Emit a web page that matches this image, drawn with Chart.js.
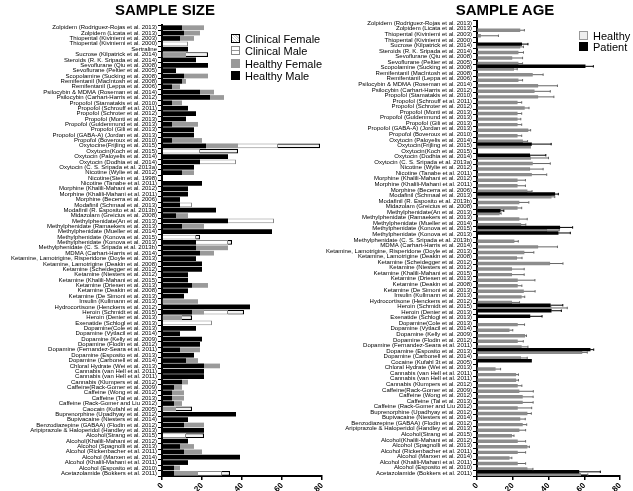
<!DOCTYPE html>
<html><head><meta charset="utf-8">
<script src="https://cdn.jsdelivr.net/npm/chart.js@4.4.0/dist/chart.umd.min.js"></script>
<style>
html,body{margin:0;padding:0;background:#fff;width:633px;height:491px;overflow:hidden;font-family:"Liberation Sans",Arial,sans-serif;}
.wrap{position:absolute;top:0;height:491px;}
#wrapL{left:0;width:330px;}
#wrapR{left:310px;width:323px;}
.title{position:absolute;top:2px;font-weight:bold;font-size:15px;line-height:16px;transform:translateX(-50%);white-space:nowrap;}
.leg{position:absolute;font-size:11px;line-height:12px;white-space:nowrap;}
.sw{position:absolute;left:0;top:1px;width:9px;height:9px;box-sizing:border-box;}
.leg span.t{position:absolute;left:14px;top:0;}
</style></head>
<body>
<div class="wrap" id="wrapL"><canvas id="cL" width="330" height="491"></canvas></div>
<div class="wrap" id="wrapR"><canvas id="cR" width="323" height="491"></canvas></div>
<div class="title" style="left:165px;">SAMPLE SIZE</div>
<div class="title" style="left:505px;">SAMPLE AGE</div>

<div class="leg" style="left:231px;top:33px;"><div class="sw" style="border:1.5px solid #000;background:repeating-linear-gradient(45deg,#fff 0 1px,#ccc 1px 2px);"></div><span class="t">Clinical Female</span></div>
<div class="leg" style="left:231px;top:45px;"><div class="sw" style="border:1.5px solid #888;background:linear-gradient(#fff 0 3px,#999 3px 4.5px,#fff 4.5px);"></div><span class="t">Clinical Male</span></div>
<div class="leg" style="left:231px;top:57.5px;"><div class="sw" style="background:#999;"></div><span class="t">Healthy Female</span></div>
<div class="leg" style="left:231px;top:70px;"><div class="sw" style="background:#000;"></div><span class="t">Healthy Male</span></div>

<div class="leg" style="left:579px;top:30px;"><div class="sw" style="border:1px solid #999;background:#eee;"></div><span class="t">Healthy</span></div>
<div class="leg" style="left:579px;top:41px;"><div class="sw" style="background:#000;"></div><span class="t">Patient</span></div>

<script>
const sizeLabels = [
"Zolpidem (Rodriguez-Rojas et al. 2013)","Zolpidem (Licata et al. 2013)","Thiopental (Kiviniemi et al. 2003)","Thiopental (Kiviniemi et al. 2000)","Sertraline",
"Sucrose (Kilpatrick et al. 2014)","Steroids (R. K. Sripada et al. 2014)","Sevoflurane (Qiu et al. 2008)","Sevoflurane (Peltier et al. 2005)","Scopolamine (Sucking et al. 2008)",
"Remifentanil (MacIntosh et al. 2008)","Remifentanil (Leppa et al. 2006)","Psilocybin & MDMA (Roseman et al. 2014)","Psilocybin (Carhart-Harris et al. 2012)","Propofol (Stamatakis et al. 2010)",
"Propofol (Schrouff et al. 2011)","Propofol (Schroter et al. 2012)","Propofol (Monti et al. 2013)","Propofol (Guldenmund et al. 2013)","Propofol (Gili et al. 2013)",
"Propofol (GABA-A) (Jordan et al. 2013)","Propofol (Boveroux et al. 2010)","Oxytocine(Frijling et al. 2015)","Oxytocin(Koch et al. 2015)","Oxytocin (Paloyelis et al. 2014)",
"Oxytocin (Dodhia et al. 2014)","Oxytocin (C. S. Sripada et al. 2013a)","Nicotine (Wylie et al. 2012)","Nicotine(Stein et al. 1998)","Nicotine (Tanabe et al. 2011)",
"Morphine (Khalili-Mahani et al. 2012)","Morphine (Khalili-Mahani et al. 2011)","Morphine (Becerra et al. 2006)","Modafinil (Schmaal et al. 2013)","Modafinil (R. Esposito et al. 2013b)",
"Midazolam (Greicius et al. 2008)","Methylphenidate(An et al. 2013)","Methylphenidate (Ramaekers et al. 2013)","Methylphenidate (Mueller et al. 2014)","Methylphenidate (Konova et al. 2015)",
"Methylphenidate (Konova et al. 2013)","Methylphenidate (C. S. Sripada et al. 2013b)","MDMA (Carhart-Harris et al. 2014)","Ketamine, Lamotrigine, Risperidone (Doyle et al. 2013)","Ketamine, Lamotrigine (Deakin et al. 2008)",
"Ketamine (Scheidegger et al. 2012)","Ketamine (Niesters et al. 2012)","Ketamine (Khalili-Mahani et al. 2015)","Ketamine (Driesen et al. 2013)","Ketamine (Deakin et al. 2008)",
"Ketamine (De Simoni et al. 2013)","Insulin (Kullmann et al. 2013)","Hydrocortisone (Henckens et al. 2012)","Heroin (Schmidt et al. 2015)","Heroin (Denier et al. 2013)",
"Exenatide (Schlogl et al. 2013)","Dopamine(Cole et al. 2013)","Dopamine (Vytlacil et al. 2014)","Dopamine (Kelly et al. 2009)","Dopamine (Flodin et al. 2012)",
"Dopamine (Fernandez-Seara et al. 2011)","Dopamine (Esposito et al. 2013)","Dopamine (Carbonell et al. 2014)","Chloral Hydrate (Wei et al. 2013)","Cannabis (van Hell et al. 2011)",
"Cannabis (van Hell et al. 2011)","Cannabis (Klumpers et al. 2012)","Caffeine(Rack-Gomer et al. 2009)","Caffeine (Wong et al. 2012)","Caffeine (Tal et al. 2013)",
"Caffeine (Rack-Gomer and Liu 2012)","Caocain (Kufahl et al. 2005)","Buprenorphine (Upadhyay et al. 2012)","Bupivacaine (Niesters et al. 2014)","Benzodiazepine (GABAA) (Flodin et al. 2012)",
"Aripiprazole & Haloperidol (Handley et al. 2013)","Alcohol(Strang et al. 2015)","Alcohol(Khalili-Mahani et al. 2012)","Alcohol (Spagnolli et al. 2013)","Alcohol (Rickenbacher et al. 2011)",
"Alcohol (Marxen et al. 2014)","Alcohol (Khalili-Mahani et al. 2011)","Alcohol (Esposito et al. 2010)","Acetazolamide (Bokkers et al. 2011)"
];
const healthyMale = [10,11,9,0,13, 0,17,23,7,11, 10,5,19,24,5, 13,17,12,5,16, 16,5,22,0,33, 19,16,10,0,20, 13,13,9,9,27, 7,33,10,55,0, 17,17,19,17,20, 20,13,13,15,13, 11,0,44,15,0, 0,17,9,20,19, 9,16,12,21,21, 21,10,6,5,5, 6,0,37,13,11, 21,0,13,9,11, 39,13,6,6];
const healthyFemale = [11,8,7,0,0, 12,0,0,0,12, 2,4,7,7,5, 0,0,0,13,0, 0,15,16,0,0, 0,0,6,0,0, 0,0,0,0,0, 6,0,11,0,0, 0,16,7,0,0, 0,0,0,8,0, 0,18,0,6,10, 0,0,0,0,0, 10,0,6,8,0, 0,3,4,6,6, 4,7,0,0,10, 0,0,0,7,9, 0,0,3,12];
const clinicalMale = [0,0,0,13,0, 0,0,0,0,0, 0,0,0,0,0, 0,0,0,0,0, 0,0,20,19,0, 18,0,0,0,0, 0,0,0,6,0, 0,23,0,0,17, 16,0,0,0,0, 0,0,0,0,0, 0,0,0,12,0, 25,0,0,0,0, 0,0,0,0,0, 0,0,0,0,0, 0,0,0,0,0, 0,12,0,0,0, 0,0,0,12];
const clinicalFemale = [0,0,0,0,0, 11,0,0,0,0, 0,0,0,0,0, 0,0,0,0,0, 0,0,21,19,0, 0,0,0,0,0, 0,0,0,0,0, 0,0,0,0,2, 2,0,0,0,0, 0,0,0,0,0, 0,0,0,8,5, 0,0,0,0,0, 0,0,0,0,0, 0,0,0,0,0, 0,8,0,0,0, 0,9,0,0,0, 0,0,0,4];

const ageLabels = [
"Zolpidem (Rodriguez-Rojas et al. 2013)","Zolpidem (Licata et al. 2013)","Thiopental (Kiviniemi et al. 2003)","Thiopental (Kiviniemi et al. 2000)","Sucrose (Kilpatrick et al. 2014)",
"Steroids (R. K. Sripada et al. 2014)","Sevoflurane (Qiu et al. 2008)","Sevoflurane (Peltier et al. 2005)","Scopolamine (Sucking et al. 2008)","Remifentanil (MacIntosh et al. 2008)",
"Remifentanil (Leppa et al. 2006)","Psilocybin & MDMA (Roseman et al. 2014)","Psilocybin (Carhart-Harris et al. 2012)","Propofol (Stamatakis et al. 2010)","Propofol (Schrouff et al. 2011)",
"Propofol (Schroter et al. 2012)","Propofol (Monti et al. 2013)","Propofol (Guldenmund et al. 2013)","Propofol (Gili et al. 2013)","Propofol (GABA-A) (Jordan et al. 2013)",
"Propofol (Boveroux et al. 2010)","Oxytocin (Paloyelis et al. 2014)","Oxytocin(Frijling et al. 2015)","Oxytocin(Koch et al. 2015)","Oxytocin (Dodhia et al. 2014)",
"Oxytocin (C. S. Sripada et al. 2013a)","Nicotine (Wylie et al. 2012)","Nicotine (Tanabe et al. 2011)","Morphine (Khalili-Mahani et al. 2012)","Morphine (Khalili-Mahani et al. 2011)",
"Morphine (Becerra et al. 2006)","Modafinil (Schmaal et al. 2013)","Modafinil (R. Esposito et al. 2013b)","Midazolam (Greicius et al. 2008)","Methylphenidate(An et al. 2013)",
"Methylphenidate (Ramaekers et al. 2013)","Methylphenidate (Mueller et al. 2014)","Methylphenidate (Konova et al. 2015)","Methylphenidate (Konova et al. 2013)","Methylphenidate (C. S. Sripada et al. 2013b)",
"MDMA (Carhart-Harris et al. 2014)","Ketamine, Lamotrigine, Risperidone (Doyle et al. 2013)","Ketamine, Lamotrigine (Deakin et al. 2008)","Ketamine (Scheidegger et al. 2012)","Ketamine (Niesters et al. 2012)",
"Ketamine (Khalili-Mahani et al. 2015)","Ketamine (Driesen et al. 2013)","Ketamine (Deakin et al. 2008)","Ketamine (De Simoni et al. 2013)","Insulin (Kullmann et al. 2013)",
"Hydrocortisone (Henckens et al. 2012)","Heroin (Schmidt et al. 2015)","Heroin (Denier et al. 2013)","Exenatide (Schlogl et al. 2013)","Dopamine(Cole et al. 2013)",
"Dopamine (Vytlacil et al. 2014)","Dopamine (Kelly et al. 2009)","Dopamine (Flodin et al. 2012)","Dopamine (Fernandez-Seara et al. 2011)","Dopamine (Esposito et al. 2013)",
"Dopamine (Carbonell et al. 2014)","Cocaine (Kufahl 3t et al. 2005)","Chloral Hydrate (Wei et al. 2013)","Cannabis (van Hell et al. 2011)","Cannabis (van Hell et al. 2011)",
"Cannabis (Klumpers et al. 2012)","Caffeine(Rack-Gomer et al. 2009)","Caffeine (Wong et al. 2012)","Caffeine (Tal et al. 2013)","Caffeine (Rack-Gomer and Liu 2012)",
"Buprenorphine (Upadhyay et al. 2012)","Bupivacaine (Niesters et al. 2014)","Benzodiazepine (GABAA) (Flodin et al. 2012)","Aripiprazole & Haloperidol (Handley et al. 2013)","Alcohol(Strang et al. 2015)",
"Alcohol(Khalili-Mahani et al. 2012)","Alcohol (Spagnolli et al. 2013)","Alcohol (Rickenbacher et al. 2011)","Alcohol (Marxen et al. 2014)","Alcohol (Khalili-Mahani et al. 2011)",
"Alcohol (Esposito et al. 2010)","Acetazolamide (Bokkers et al. 2011)"
];
const healthyAge = [null,24,2,null,24, 23,19.5,23,20.5,31, 23,34,32,34,22.5, 26.5,22.5,22.5,22.5,28.5, 22.5,25.5,30,null,30, 31,29.5,30.5,22.5,22.5, 28,41.5,23.5,22.5,12.5, 23.5,24.5,39,null,20.7, 34,26.3,22.2,40.7,19.4, 19.4,22.6,22.6,26,24.8, 19.4,41.5,null,null,22.6, 18,26.7,22.6,24.8,58.7, 24.4,null,10.2,21.7,21.7, 22.6,23.5,25.4,25.4,22.6, 28,24,25.4,23.5,19.4, 22.6,28,22.6,18,22.6, 28,58];
const healthyAgeErr = [0,2.5,10,0,2, 3,6,2.5,2,6, 2.5,11,9,9,2.5, 2.6,2.5,2,2.5,1.5, 2.5,2.8,0,0,10, 10,7.5,8.5,4.6,4.6, 2.8,2,5.5,2.5,1, 4.6,2.8,7,0,2.4, 11,5.5,3,7.4,7, 7,9.8,2.5,6.5,1.9, 4.4,9,0,0,4, 2,1,3.3,3.7,3, 3.7,0,3,1.5,1.5, 2.5,8,6,6,8, 2.4,3,2.4,3.7,1.3, 4.6,1.3,4.6,1.5,4.6, 3.3,4];
const patientAge = [null,null,null,null,25, null,null,null,60.5,null, null,null,null,null,null, null,null,null,null,null, null,null,30.5,null,29.5, null,null,null,null,null, null,43.5,null,null,13, null,null,46.3,45.4,null, null,null,null,null,null, null,null,null,null,null, null,41,41.5,29.6,null, null,null,null,null,63.3, null,30.5,null,null,null, null,null,null,null,null, null,null,null,null,null, null,null,null,null,null, null,57];
const patientAgeErr = [0,0,0,0,3.5, 0,0,0,4.6,0, 0,0,0,0,0, 0,0,0,0,0, 0,0,11,0,9, 0,0,0,0,0, 0,2,0,0,2, 0,0,7.2,6.8,0, 0,0,0,0,0, 0,0,0,0,0, 0,7,5.7,6.8,0, 0,0,0,0,2, 0,0,0,0,0, 0,0,0,0,0, 0,0,0,0,0, 0,0,0,0,0, 0,12];
const xTicks = [0,20,40,60,80];

const FONT = '"Liberation Sans", Arial, sans-serif';
Chart.defaults.font.family = FONT;
Chart.defaults.color = '#000';
const nz = a => a.map(v => v ? v : null);

const errorBars = {
  id: 'errorBars',
  afterDatasetsDraw(chart) {
    const ctx = chart.ctx, xs = chart.scales.x;
    chart.data.datasets.forEach((ds, di) => {
      if (!ds.errors) return;
      const meta = chart.getDatasetMeta(di);
      meta.data.forEach((el, i) => {
        const v = ds.data[i], e = ds.errors[i];
        if (v == null || !e) return;
        const x0 = xs.getPixelForValue(v), x1 = xs.getPixelForValue(v + e);
        ctx.save();
        ctx.strokeStyle = ds.errorColor; ctx.lineWidth = 1;
        ctx.beginPath();
        ctx.moveTo(x0, el.y); ctx.lineTo(x1, el.y);
        ctx.moveTo(x1, el.y - 1.2); ctx.lineTo(x1, el.y + 1.2);
        ctx.stroke(); ctx.restore();
      });
    });
  }
};

function xScale(stacked) {
  return {
    stacked, min: 0, max: 80,
    afterBuildTicks: s => { s.ticks = xTicks.map(v => ({value: v})); },
    ticks: {minRotation: 45, maxRotation: 45, font: {size: 8, weight: 'bold'}, color: '#000', padding: 1},
    grid: {display: true, drawOnChartArea: false, drawTicks: true, tickLength: 4, color: '#000', lineWidth: 1.5},
    border: {display: true, color: '#000', width: 2},
    afterFit: s => { s.height = 15; }
  };
}
function yScale(stacked, w) {
  return {
    stacked,
    ticks: {autoSkip: false, font: {size: 6}, color: '#000', padding: 1},
    grid: {display: true, drawOnChartArea: false, drawTicks: true, tickLength: 4, color: '#000', lineWidth: 1},
    border: {display: true, color: '#000', width: 2},
    afterFit: s => { s.width = w; }
  };
}

new Chart(document.getElementById('cL'), {
  type: 'bar',
  data: {
    labels: sizeLabels,
    datasets: [
      {label: 'Healthy Male', data: nz(healthyMale), backgroundColor: '#000', borderWidth: 0},
      {label: 'Healthy Female', data: nz(healthyFemale), backgroundColor: '#9a9a9a', borderWidth: 0},
      {label: 'Clinical Male', data: nz(clinicalMale), backgroundColor: '#fff', borderColor: '#8a8a8a', borderWidth: 1},
      {label: 'Clinical Female', data: nz(clinicalFemale), backgroundColor: '#f2f2f2', borderColor: '#000', borderWidth: 1.2}
    ]
  },
  options: {
    indexAxis: 'y', responsive: false, animation: false,
    layout: {padding: {top: 25, right: 8, bottom: 0, left: 0}},
    plugins: {legend: {display: false}, tooltip: {enabled: false}},
    datasets: {bar: {categoryPercentage: 1, barPercentage: 0.88}},
    scales: {x: xScale(true), y: yScale(true, 162)}
  }
});

new Chart(document.getElementById('cR'), {
  type: 'bar',
  data: {
    labels: ageLabels,
    datasets: [
      {label: 'Patient', data: patientAge, errors: patientAgeErr, errorColor: '#000', backgroundColor: '#000', borderWidth: 0},
      {label: 'Healthy', data: healthyAge, errors: healthyAgeErr, errorColor: '#666', backgroundColor: '#8c8c8c', borderWidth: 0}
    ]
  },
  options: {
    indexAxis: 'y', responsive: false, animation: false,
    layout: {padding: {top: 20.5, right: 13, bottom: 0, left: 0}},
    plugins: {legend: {display: false}, tooltip: {enabled: false}},
    datasets: {bar: {categoryPercentage: 1, barPercentage: 1}},
    scales: {x: xScale(false), y: yScale(false, 167)}
  },
  plugins: [errorBars]
});
</script>
</body></html>
